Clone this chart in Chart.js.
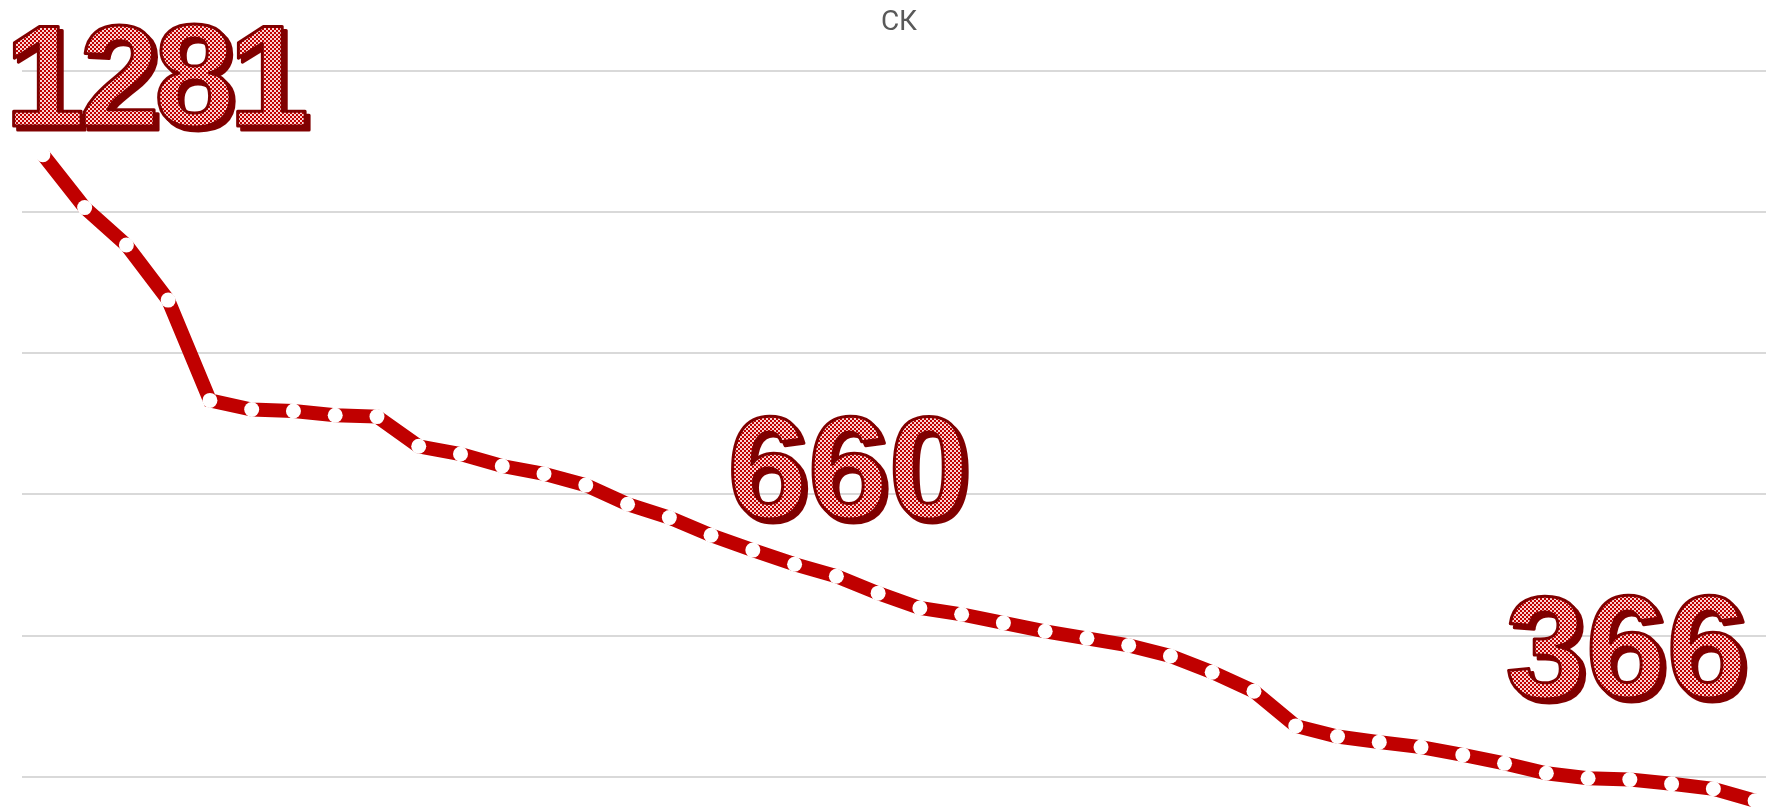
<!DOCTYPE html>
<html>
<head>
<meta charset="utf-8">
<script src="https://cdn.jsdelivr.net/npm/chart.js@4.4.1/dist/chart.umd.min.js"></script>
<style>
    html, body { margin: 0; padding: 0; background: #fff; overflow: hidden; }
    canvas { display: block; }
</style>
</head>
<body>
<canvas id="chartline" width="1800" height="930"></canvas>
<script>
// values, one per point
const categories = ['1', '2', '3', '4', '5', '6', '7', '8', '9', '10', '11', '12', '13', '14',
    '15', '16', '17', '18', '19', '20', '21', '22', '23', '24', '25', '26', '27', '28',
    '29', '30', '31', '32', '33', '34', '35', '36', '37', '38', '39', '40', '41', '42'];
const values = [1281, 1206, 1153, 1075, 933, 920, 918, 912, 910, 868, 857, 840, 829, 813,
    786, 767, 742, 721, 701, 684, 660, 639, 630, 618, 606, 596, 586, 571,
    548, 521, 472, 457, 449, 442, 431, 419, 405, 398, 396, 390, 383, 366];
const yTicks = [200, 400, 600, 800, 1000, 1200, 1400];

// points that get a big number over them
const calloutIndex = [0, 20, 41];
// where each number sits relative to its point (px), and its letter spacing
const calloutShift = [[111, -29], [-30, -75], [-129, -104]];
const calloutSpacing = ['-6px', '0px', '0px'];

function makeChecker() {
    const c = document.createElement('canvas');
    c.width = 4;
    c.height = 4;
    const g = c.getContext('2d');
    g.fillStyle = '#c00000';
    g.fillRect(0, 0, 4, 4);
    g.fillStyle = '#fbd2d2';
    g.fillRect(0, 0, 2, 2);
    g.fillRect(2, 2, 2, 2);
    return c;
}

const calloutPlugin = {
    id: 'callouts',
    afterDatasetsDraw(chart) {
        const ctx = chart.ctx;
        const xs = chart.scales.x;
        const ys = chart.scales.y;
        const pattern = ctx.createPattern(makeChecker(), 'repeat');
        ctx.save();
        ctx.font = 'bold 145px "Liberation Sans", Arial, sans-serif';
        ctx.textAlign = 'center';
        ctx.textBaseline = 'alphabetic';
        ctx.lineJoin = 'round';
        ctx.lineWidth = 3;
        calloutIndex.forEach((idx, k) => {
            const text = String(values[idx]);
            const px = xs.getPixelForValue(idx) + calloutShift[k][0];
            const py = ys.getPixelForValue(values[idx]) + calloutShift[k][1];
            ctx.letterSpacing = calloutSpacing[k];
            // drop shadow
            ctx.fillStyle = '#800000';
            ctx.strokeStyle = '#800000';
            ctx.fillText(text, px + 4, py + 4);
            ctx.strokeText(text, px + 4, py + 4);
            // face
            ctx.fillStyle = pattern;
            ctx.fillText(text, px, py);
            ctx.strokeText(text, px, py);
        });
        ctx.restore();
    }
};

const lineChart = new Chart(document.getElementById('chartline'), {
    type: 'line',
    data: {
        labels: categories,
        datasets: [{
            data: values,
            borderColor: '#c00000',
            borderWidth: 14,
            tension: 0,
            fill: false,
            pointRadius: 7.5,
            pointBorderWidth: 0,
            pointBackgroundColor: '#ffffff',
            pointBorderColor: '#ffffff'
        }]
    },
    options: {
        responsive: false,
        animation: false,
        layout: {
            padding: { left: 22, right: 24, top: 0, bottom: 12 }
        },
        scales: {
            x: {
                display: false,
                offset: true
            },
            y: {
                min: yTicks[0],
                max: yTicks[yTicks.length - 1],
                afterBuildTicks: (axis) => {
                    axis.ticks = yTicks.map(v => ({ value: v }));
                },
                ticks: { display: false },
                border: { display: false },
                grid: {
                    color: '#d9d9d9',
                    lineWidth: 2,
                    drawTicks: false
                }
            }
        },
        plugins: {
            legend: { display: false },
            tooltip: { enabled: false },
            title: {
                display: true,
                text: 'СК',
                color: '#595959',
                font: { family: 'Roboto, "Liberation Sans", sans-serif', size: 28, weight: 'normal' },
                padding: { top: 6, bottom: 31 }
            }
        }
    },
    plugins: [calloutPlugin]
});
</script>
</body>
</html>
